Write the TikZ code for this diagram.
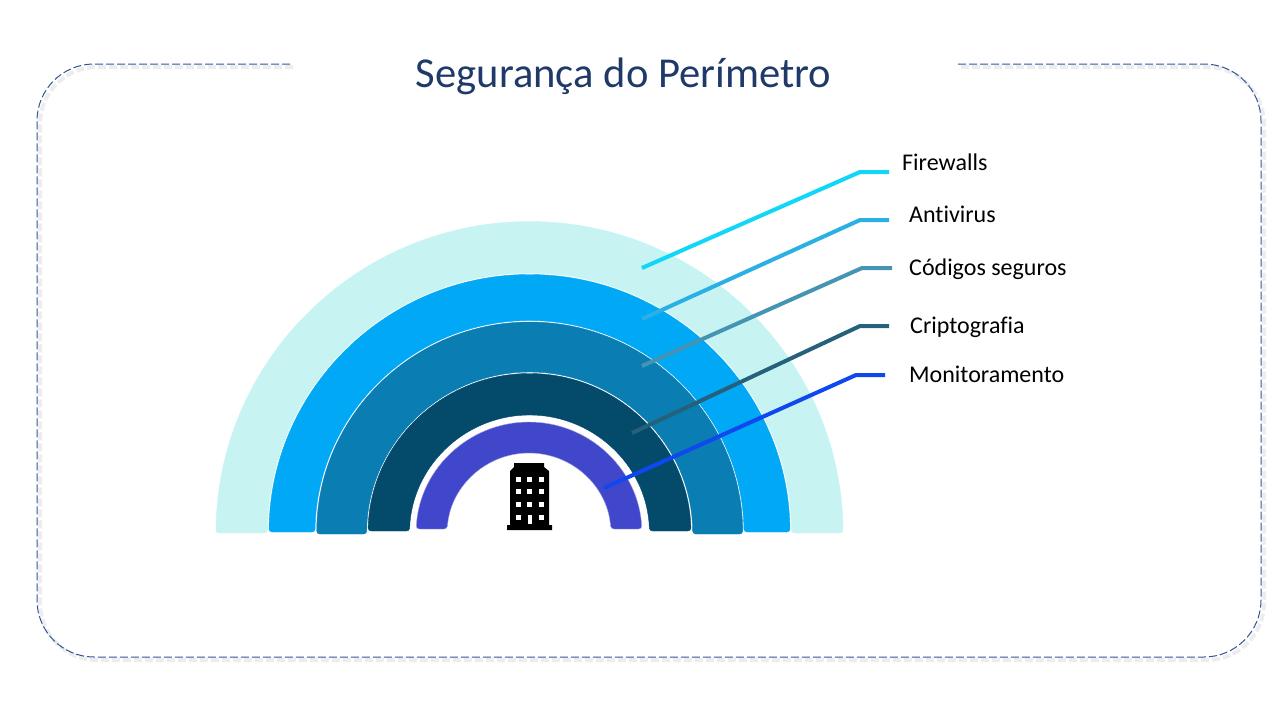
\documentclass[tikz,border=0pt]{standalone}
\usepackage{fontspec}
\setmainfont{Carlito}[Ligatures = NoCommon]
\usetikzlibrary{calc}

\definecolor{paleBand}{HTML}{C7F4F3}
\definecolor{blueBand}{HTML}{00A8F5}
\definecolor{tealBand}{HTML}{0A7DB3}
\definecolor{darkBand}{HTML}{044A6A}
\definecolor{purpleBand}{HTML}{4147CB}
\definecolor{purpleEdge}{HTML}{A4A8DD}
\definecolor{frameLine}{HTML}{2F5597}
\definecolor{titleText}{HTML}{1F3A68}
\definecolor{fireLine}{HTML}{10D7F5}
\definecolor{antiLine}{HTML}{2AB0E4}
\definecolor{codeLine}{HTML}{4594B3}
\definecolor{cryptLine}{HTML}{25617A}
\definecolor{monLine}{HTML}{1048F0}

\tikzset{
	band/.style = {line width = 0.4pt, rounded corners = 3pt},
	leader/.style = {line width = 4pt},
	layer/.style = {anchor = base west, font = \fontsize{24}{28}\selectfont, text = black, inner sep = 0pt},
}

\begin{document}
\begin{tikzpicture}[x = 1pt, y = -1pt]

\useasboundingbox (0, 0) rectangle (1280, 720);

% frame with a gap for the title
\foreach \col/\sh/\w in {black!7/3/4, frameLine/0/1} {
	\begin{scope}[xshift = \sh pt, yshift = -\sh pt]
	\draw[\col, line width = \w pt, dash pattern = on 8pt off 3pt]
		(290, 64) -- (94, 64) arc[start angle = 90, end angle = 180, radius = 57pt]
		-- (37, 600) arc[start angle = 180, end angle = 270, radius = 57pt]
		-- (1204, 657) arc[start angle = 270, end angle = 360, radius = 57pt]
		-- (1261, 121) arc[start angle = 0, end angle = 90, radius = 57pt]
		-- (958, 64);
	\end{scope}
}

\node[anchor = base, font = \fontsize{42.6}{48}\selectfont, text = titleText, inner sep = 0pt] (Title) at (623.5, 87.7) {Segurança do Perímetro};

% bands, outermost first
\foreach \col/\edge/\cx/\ro/\ri/\by in {
	paleBand/paleBand/529.5/313.5/262/533,
	blueBand/blueBand/529.5/260.5/214.5/532,
	tealBand/tealBand/529.7/213/163/534,
	darkBand/darkBand/529.5/161.5/120/531,
	purpleBand/purpleEdge/529/113/82/529} {
	\pgfmathsetmacro{\ao}{asin((535 - \by) / \ro)}
	\pgfmathsetmacro{\ai}{asin((535 - \by) / \ri)}
	\draw[band, draw = \edge, fill = \col]
		([shift = {(180 - \ao:\ro pt)}] \cx, 535) arc[start angle = 180 - \ao, end angle = \ao, radius = \ro pt]
		-- ([shift = {(\ai:\ri pt)}] \cx, 535) arc[start angle = \ai, end angle = 180 - \ai, radius = \ri pt]
		-- cycle;
}

% building
\fill[black] (507, 530) -- (507, 525) -- (510, 525) -- (510, 471) -- (514, 467) -- (514, 463)
	-- (544, 463) -- (544, 467) -- (549, 471) -- (549, 525) -- (552, 525) -- (552, 530) -- cycle;
\foreach \y in {479, 491.5, 504, 517} {
	\foreach \x in {518, 529.5, 541} {
		\fill[white] (\x - 2.5, \y - 2.5) rectangle (\x + 2.5, \y + 2.5);
	}
}
\fill[black] (527, 514) rectangle (532, 520);
\fill[white] (527.5, 515) rectangle (531.5, 524);

% labels
\node[layer] (Firewalls) at (902, 170) {Firewalls};
\node[layer] (Antivirus) at (909, 222.5) {Antivirus};
\node[layer] (Codigos) at (909, 275.5) {Códigos seguros};
\node[layer] (Cripto) at (910, 333.5) {Criptografia};
\node[layer] (Monitor) at (909, 382) {Monitoramento};

% leaders
\foreach \name/\col/\xa/\ya/\xb/\yb/\xc in {
	fire/fireLine/642/268/860/172/889,
	anti/antiLine/642/319/860/220/889,
	code/codeLine/642/366/862/268/892,
	crypt/cryptLine/632/433/860/326/889,
	mon/monLine/604/488/856/375/885} {
	\coordinate (\name Start) at (\xa, \ya);
	\coordinate (\name Bend) at (\xb, \yb);
	\coordinate (\name End) at (\xc, \yb);
	\draw[leader, \col] (\name Start) -- (\name Bend) -- (\name End);
}

\end{tikzpicture}
\end{document}
